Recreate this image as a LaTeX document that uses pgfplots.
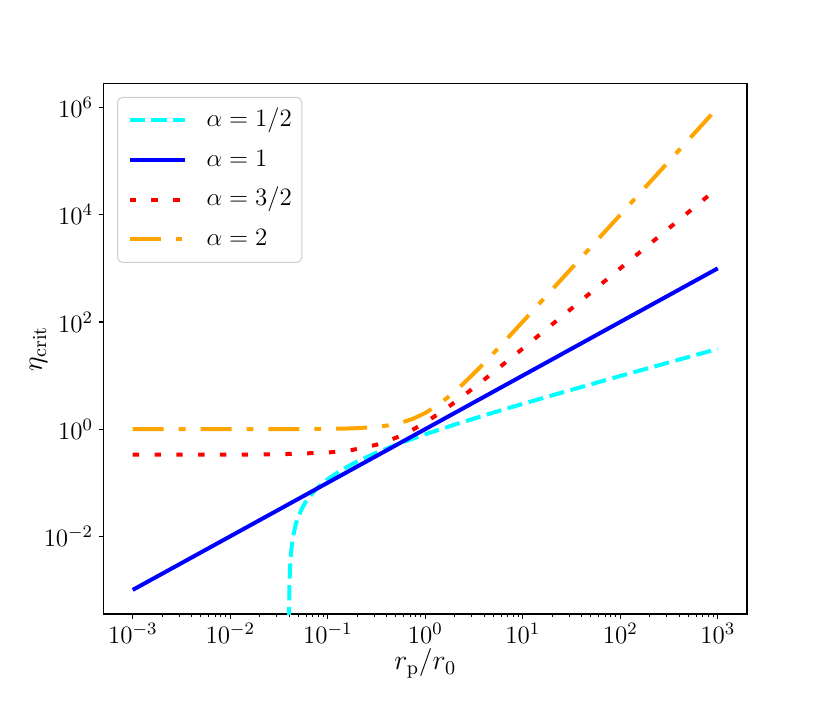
\RequirePackage{fix-cm}
\documentclass[border=0pt]{standalone}
\usepackage{pgfplots}
\pgfplotsset{compat=1.18}

\definecolor{mcyan}{RGB}{0,255,255}
\definecolor{mblue}{RGB}{0,0,255}
\definecolor{mred}{RGB}{255,0,0}
\definecolor{morange}{RGB}{255,165,0}

\newcommand{\figfont}{\fontsize{12.5}{15}\selectfont}
\newcommand{\labfont}{\fontsize{14}{17}\selectfont}

\begin{document}
\begin{tikzpicture}
  % page size = 830x703 px at 0.5pt per px
  \useasboundingbox (-51.75pt,-44.5pt) rectangle (363.25pt,307pt);
  \begin{axis}[
    scale only axis,
    width=321.75pt, height=265.25pt,
    xmode=log, ymode=log,
    xmin=5.0119e-4, xmax=1995.26,
    ymin=3.548e-4, ymax=2.818e6,
    xtick={1e-3,1e-2,1e-1,1,1e1,1e2,1e3},
    ytick={1e-2,1,1e2,1e4,1e6},
    minor ytick={},
    tick align=outside,
    xtick pos=bottom, ytick pos=left,
    major tick length=2.45pt, minor tick length=1.4pt,
    every major tick/.style={line width=0.55pt, black},
    every minor tick/.style={line width=0.42pt, black},
    axis line style={line width=0.55pt, black},
    tick label style={font=\figfont},
    xticklabel style={inner sep=2pt},
    yticklabel style={inner sep=2.6pt},
    label style={font=\labfont},
    xlabel={$r_{\rm p}/r_0$},
    ylabel={$\eta_{\rm crit}$},
    xlabel style={at={(axis description cs:0.5,-0.093)}, anchor=center},
    ylabel style={at={(axis description cs:-0.101,0.5)}, anchor=center},
    legend cell align=left,
    legend style={
      at={(axis description cs:0.021,0.9746)}, anchor=north west,
      draw=black!20, line width=0.5pt, fill=white, fill opacity=0.8, text opacity=1,
      rounded corners=2.5pt, font=\figfont,
      inner xsep=5pt, inner ysep=5pt, row sep=6.8pt,
      nodes={inner sep=0pt, text height=9.5pt, text depth=3.5pt},
      /tikz/every odd column/.append style={column sep=10pt},
    },
    legend image code/.code={\draw[#1] (0pt,0pt) -- (27.5pt,0pt);},
    clip=true,
  ]

    % alpha = 1/2
    \addplot[mcyan, line width=2pt, dash pattern=on 7.6pt off 3.3pt] coordinates {
      (0.0401,0.00025) (0.0402,0.0004994) (0.0405,0.001246) (0.041,0.002485)
      (0.042,0.004939) (0.044,0.009762) (0.047,0.016795) (0.05,0.023607)
      (0.055,0.034521) (0.06,0.044949) (0.07,0.064575) (0.08,0.082843)
      (0.1,0.116228) (0.13,0.160555) (0.17,0.212311) (0.2,0.247214)
      (0.3,0.347723) (0.5,0.507107) (0.7,0.63666) (1,0.8)
      (2,1.214214) (5,2.036068) (10,2.962278) (30,5.277226)
      (100,9.8) (300,17.120508) (1000,31.422777)
    };
    \addlegendentry{$\alpha = 1/2$}

    % alpha = 1
    \addplot[mblue, line width=2pt] coordinates {(0.001,0.001) (1000,1000)};
    \addlegendentry{$\alpha = 1$}

    % alpha = 3/2
    \addplot[mred, line width=2pt, dash pattern=on 3.2pt off 7.7pt] coordinates {
      (0.001,0.333365) (0.01,0.334333) (0.0316228,0.338957) (0.1,0.364956)
      (0.177828,0.408323) (0.316228,0.511161) (0.421697,0.607175) (0.562341,0.75503)
      (0.749894,0.982715) (1,1.333333) (1.333521,1.87326) (1.778279,2.704707)
      (2.371374,3.985074) (3.162278,5.956746) (4.216965,8.992976) (5.623413,13.668547)
      (10,31.95611) (31.622777,178.161274) (100,1000.333) (316.227766,5623.746)
      (1000,31623.11)
    };
    \addlegendentry{$\alpha = 3/2$}

    % alpha = 2
    \addplot[morange, line width=2pt, dash pattern=on 15.5pt off 7.5pt on 3.4pt off 7.5pt] coordinates {
      (0.001,1.000001) (0.01,1.0001) (0.0316228,1.001) (0.1,1.01)
      (0.177828,1.031623) (0.316228,1.1) (0.421697,1.177828) (0.562341,1.316228)
      (0.749894,1.562341) (1,2) (1.333521,2.778279) (1.778279,4.162278)
      (2.371374,6.623413) (3.162278,11) (4.216965,18.782794) (5.623413,32.622777)
      (7.498942,57.234133) (10,101) (17.782794,317.227766) (31.622777,1001)
      (100,10001) (316.227766,100001) (1000,1000001)
    };
    \addlegendentry{$\alpha = 2$}

  \end{axis}
\end{tikzpicture}
\end{document}
